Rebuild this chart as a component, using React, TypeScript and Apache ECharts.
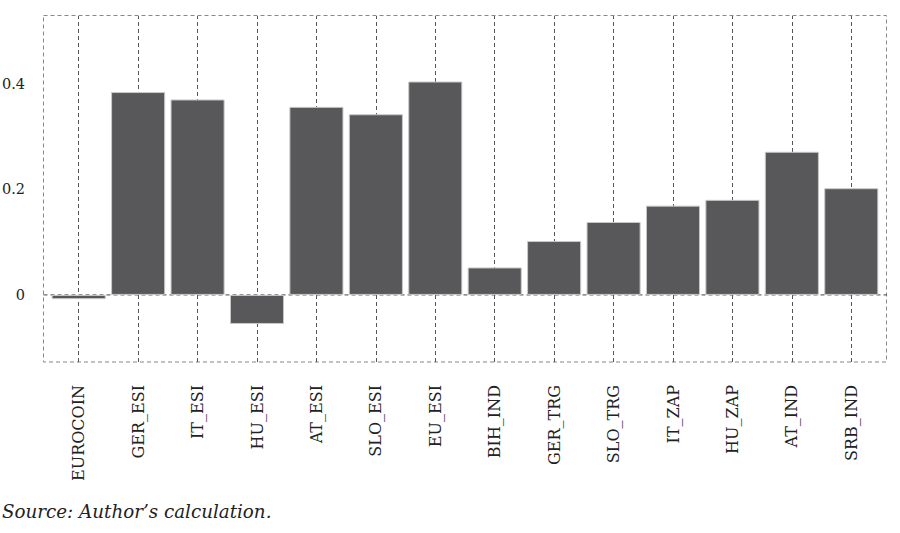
import React, { useEffect, useRef } from 'react';
import * as echarts from 'echarts';

const categories = [
  'EUROCOIN', 'GER_ESI', 'IT_ESI', 'HU_ESI', 'AT_ESI', 'SLO_ESI', 'EU_ESI',
  'BIH_IND', 'GER_TRG', 'SLO_TRG', 'IT_ZAP', 'HU_ZAP', 'AT_IND', 'SRB_IND',
];
const values = [
  -0.008, 0.384, 0.37, -0.055, 0.356, 0.342, 0.404,
  0.052, 0.102, 0.138, 0.169, 0.18, 0.271, 0.202,
];
const yTicks = [0, 0.2, 0.4];
const yMin = -0.127;
const yMax = 0.528;
const sourceNote = 'Source: Author’s calculation.';

export default function App() {
  const ref = useRef<HTMLDivElement>(null);
  useEffect(() => {
    const chart = echarts.init(ref.current!, null, { renderer: 'svg' });
    const serif = 'DejaVu Serif';
    chart.setOption({
      animation: false,
      backgroundColor: '#ffffff',
      grid: {
        left: 49, right: 19, top: 16, bottom: 171,
        containLabel: false, outerBoundsMode: 'none',
      },
      xAxis: {
        type: 'category',
        data: categories,
        axisLine: { show: false, onZero: false },
        axisTick: { show: false },
        splitLine: { show: false },
        axisLabel: {
          rotate: 90,
          interval: 0,
          margin: 23,
          fontFamily: serif,
          fontSize: 16,
          color: '#222',
        },
      },
      yAxis: {
        type: 'value',
        min: yMin,
        max: yMax,
        axisLine: { show: false },
        axisTick: { show: false },
        splitLine: { show: false },
        axisLabel: {
          customValues: yTicks,
          margin: 24,
          fontFamily: serif,
          fontSize: 14.5,
          color: '#222',
          formatter: (v: number) => (Math.abs(v) < 1e-9 ? '0' : String(Math.round(v * 10) / 10)),
        },
      },
      series: [
        {
          type: 'bar',
          data: values,
          barCategoryGap: '9%',
          z: 3,
          itemStyle: { color: '#58585a', borderColor: '#c8c8c8', borderWidth: 1 },
          markLine: {
            silent: true,
            z: 1,
            symbol: 'none',
            label: { show: false },
            lineStyle: { type: [4, 3], color: '#555', width: 1 },
            data: categories.map((c) => ({ xAxis: c })),
          },
        },
      ],
    });
    const y0 = chart.convertToPixel({ yAxisIndex: 0 }, 0) as number;
    chart.setOption({
      graphic: [
        {
          type: 'rect',
          z: 0,
          silent: true,
          shape: { x: 43.5, y: 15.5, width: 843, height: 346.5 },
          style: { fill: 'none', stroke: '#888', lineWidth: 1, lineDash: [4, 3] },
        },
        {
          type: 'line',
          z: 0,
          silent: true,
          shape: { x1: 43.5, y1: y0, x2: 887, y2: y0 },
          style: { stroke: '#444', lineWidth: 1, lineDash: [4, 3] },
        },
        {
          type: 'text',
          left: 2,
          top: 502,
          style: {
            text: sourceNote,
            fontFamily: serif,
            fontStyle: 'italic',
            fontSize: 18.3,
            fill: '#222',
          },
        },
      ],
    });
    return () => chart.dispose();
  }, []);
  return (
    <div
      ref={ref}
      style={{ position: 'fixed', left: 0, top: 0, width: 900, height: 533 }}
    />
  );
}
